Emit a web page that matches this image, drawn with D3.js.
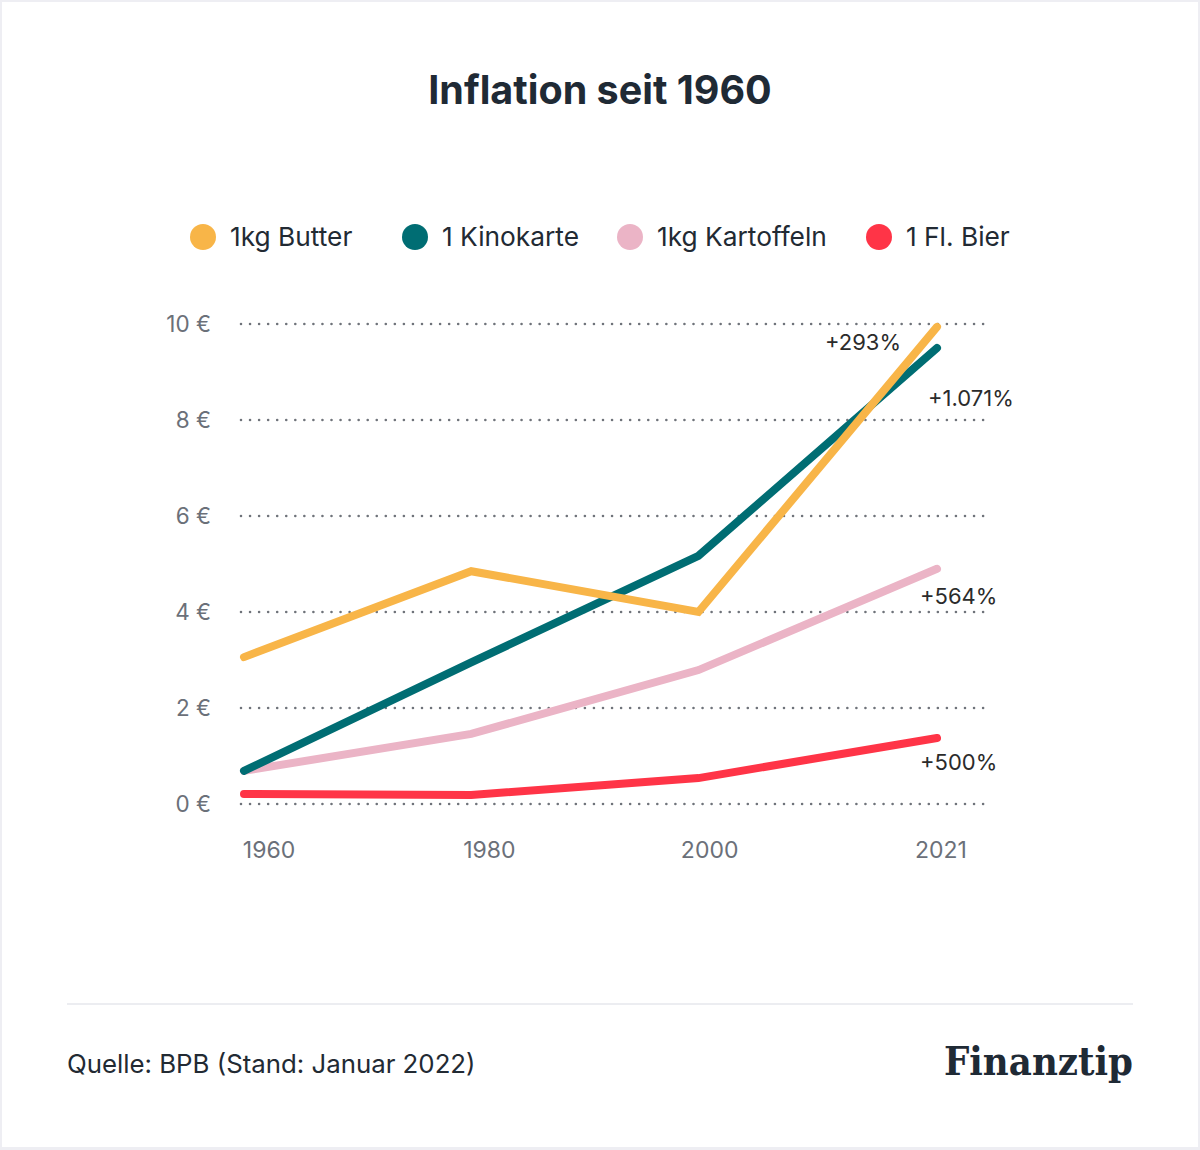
<!DOCTYPE html>
<html><head><meta charset="utf-8">
<script src="https://cdn.jsdelivr.net/npm/d3@7"></script>
<style>html,body{margin:0;padding:0;background:#eeeef3;}svg{display:block;}</style>
</head><body>
<script>
const years = [1960, 1980, 2000, 2021];
const yearLabels = ["1960", "1980", "2000", "2021"];
const yTicks = [0, 2, 4, 6, 8, 10];
const seriesNames = ["1kg Butter", "1 Kinokarte", "1kg Kartoffeln", "1 Fl. Bier"];
const butter = [3.06, 4.85, 4.0, 9.94];
const kinokarte = [0.69, 2.95, 5.17, 9.5];
const kartoffeln = [0.69, 1.46, 2.79, 4.9];
const bier = [0.21, 0.19, 0.54, 1.375];
const changes = ["+293%", "+1.071%", "+564%", "+500%"];
const colors = ["#f8b548", "#006d73", "#ebb4c6", "#ff3447"];

const W = 1200, H = 1150;
const svg = d3.select("body").append("svg").attr("width", W).attr("height", H);
svg.append("rect").attr("x", 0).attr("y", 0).attr("width", W).attr("height", H).attr("fill", "#eeeef3");
svg.append("rect").attr("x", 2).attr("y", 2).attr("width", 1196).attr("height", 1145).attr("fill", "#fff");

const font = "Inter, 'Noto Sans', sans-serif";

svg.append("text").attr("x", 600).attr("y", 104).attr("text-anchor", "middle")
  .attr("font-family", font).attr("font-weight", 700).attr("font-size", 39.5)
  .attr("fill", "#1f2a35").text("Inflation seit 1960");

// legend
const legendX = [203, 415, 630, 879];
const lg = svg.append("g");
seriesNames.forEach((n, i) => {
  lg.append("circle").attr("cx", legendX[i]).attr("cy", 237).attr("r", 13).attr("fill", colors[i]);
  lg.append("text").attr("x", legendX[i] + 27).attr("y", 246).attr("font-family", font)
    .attr("font-size", 26.3).attr("fill", "#222a33").text(n);
});

const x = d3.scaleLinear().domain([1960, 2021]).range([244, 937]);
const y = d3.scaleLinear().domain([0, 10]).range([804, 324]);

// grid
const grid = svg.append("g");
yTicks.forEach(t => {
  grid.append("line").attr("x1", 241).attr("x2", 988).attr("y1", y(t)).attr("y2", y(t))
    .attr("stroke", "#6f737a").attr("stroke-width", 2.6).attr("stroke-linecap", "round")
    .attr("stroke-dasharray", "0 9.05");
  grid.append("text").attr("x", 211).attr("y", y(t) + 8).attr("text-anchor", "end")
    .attr("font-family", font).attr("font-size", 22.5).attr("fill", "#6b7079").text(t + " €");
});

// x labels
const xLabelPos = d3.scaleLinear().domain([1960, 2021]).range([269, 941]);
years.forEach((yr, i) => {
  svg.append("text").attr("x", xLabelPos(yr)).attr("y", 858).attr("text-anchor", "middle")
    .attr("font-family", font).attr("font-size", 23).attr("fill", "#6b7079").text(yearLabels[i]);
});

const line = d3.line().x((d, i) => x(years[i])).y(d => y(d));
const data = [bier, kartoffeln, kinokarte, butter];
const dataColors = [colors[3], colors[2], colors[1], colors[0]];
data.forEach((s, i) => {
  svg.append("path").attr("d", line(s)).attr("fill", "none").attr("stroke", dataColors[i])
    .attr("stroke-width", 8).attr("stroke-linecap", "round").attr("stroke-linejoin", "miter");
});

// annotations
const annPos = [[825, 350], [928, 406], [920, 604], [920, 770]];
changes.forEach((c, i) => {
  svg.append("text").attr("x", annPos[i][0]).attr("y", annPos[i][1]).attr("font-family", font)
    .attr("font-size", 22).attr("fill", "#2b2b2b").text(c);
});

// footer
svg.append("line").attr("x1", 67).attr("x2", 1133).attr("y1", 1004).attr("y2", 1004)
  .attr("stroke", "#e6e7ec").attr("stroke-width", 1.5);
svg.append("text").attr("x", 67).attr("y", 1073).attr("font-family", font).attr("font-size", 25.8)
  .attr("fill", "#222a33").text("Quelle: BPB (Stand: Januar 2022)");
svg.append("text").attr("x", 944).attr("y", 1075).attr("font-family", "'DejaVu Serif', serif")
  .attr("font-weight", 700).attr("font-size", 39).attr("fill", "#1f2a35")
  .attr("textLength", 189).attr("lengthAdjust", "spacingAndGlyphs").text("Finanztip");
</script>
</body></html>
